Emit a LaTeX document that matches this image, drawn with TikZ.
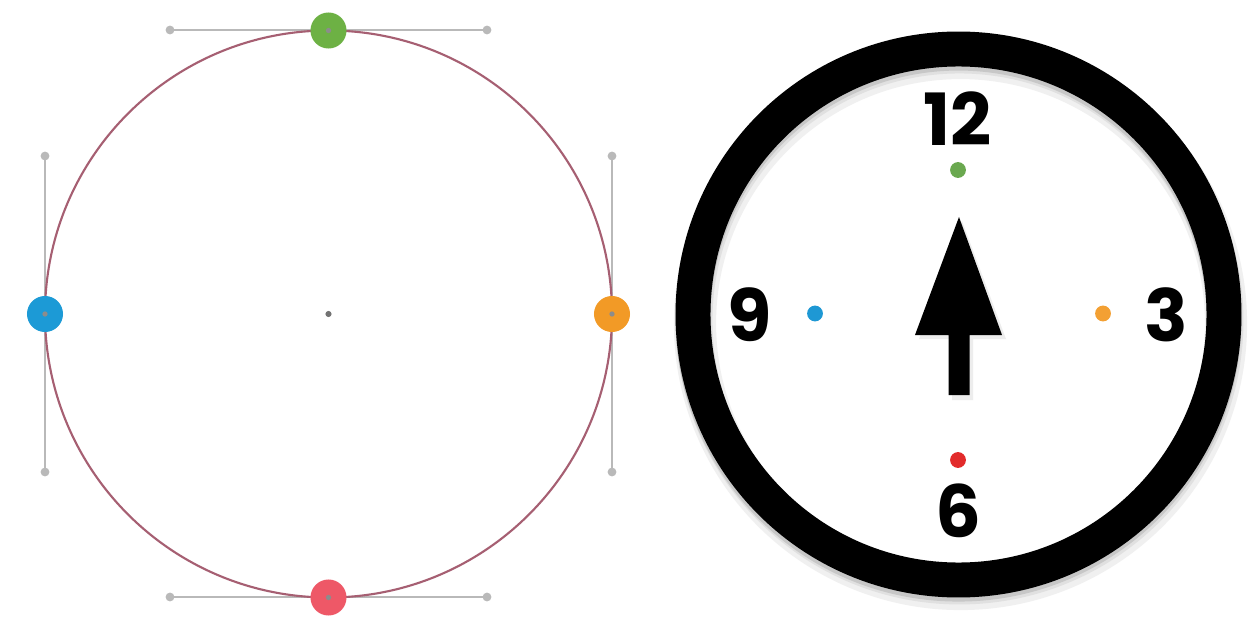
\documentclass[tikz,border=0pt]{standalone}
\usepackage{fontspec}
\usetikzlibrary{calc}
\newfontfamily\clockfont{Poppins}
\definecolor{curvecol}{HTML}{A65F72}
\definecolor{handlecol}{HTML}{B9B9B9}
\definecolor{ptgreen}{HTML}{6DB144}
\definecolor{ptblue}{HTML}{1C9AD6}
\definecolor{ptorange}{HTML}{F29A26}
\definecolor{ptred}{HTML}{EE5867}
\definecolor{ckgreen}{HTML}{6AA84F}
\definecolor{ckblue}{HTML}{1E98D4}
\definecolor{ckorange}{HTML}{F3A033}
\definecolor{ckred}{HTML}{E22B2B}
\tikzset{
  handle/.style={draw=handlecol, line width=1.2pt},
  handleend/.style={circle, fill=handlecol, inner sep=0pt, minimum size=5pt},
  anchorpt/.style={circle, inner sep=0pt, minimum size=20.5pt},
  anchorcore/.style={circle, fill=black!45, inner sep=0pt, minimum size=3pt},
  clockdot/.style={circle, inner sep=0pt, minimum size=9pt},
  numeral/.style={font=\clockfont\bfseries\fontsize{41}{41}\selectfont, inner sep=0pt, text=black}
}
\begin{document}
\begin{tikzpicture}[x=0.02cm, y=-0.02cm]
\useasboundingbox (0,0) rectangle (1259,635);
\fill[white] (0,0) rectangle (1259,635);

% ---------- left: bezier circle with handles ----------
\coordinate (ctr) at (328.5,314);
\coordinate (tl) at (170,30);  \coordinate (tr) at (487,30);
\coordinate (bl) at (170,597); \coordinate (br) at (487,597);
\coordinate (lt) at (45,156);  \coordinate (lb) at (45,472);
\coordinate (rt) at (612,156); \coordinate (rb) at (612,472);
\draw[handle] (tl) -- (tr);
\draw[handle] (bl) -- (br);
\draw[handle] (lt) -- (lb);
\draw[handle] (rt) -- (rb);
\foreach \p in {tl,tr,bl,br,lt,lb,rt,rb} \node[handleend] at (\p) {};
\draw[curvecol, line width=1.2pt] (ctr) circle (283.5);
\node[anchorpt, fill=ptgreen] (ptop) at (328.5,30.5) {};
\node[anchorpt, fill=ptblue] (pleft) at (45,314) {};
\node[anchorpt, fill=ptorange] (pright) at (612,314) {};
\node[anchorpt, fill=ptred] (pbottom) at (328.5,597.5) {};
\foreach \p in {ptop,pleft,pright,pbottom} \node[anchorcore] at (\p) {};
\node[circle, fill=black!55, inner sep=0pt, minimum size=3.5pt] (center) at (ctr) {};

% ---------- right: clock ----------
\coordinate (cc) at (958.5,314.5);
% soft shadow of ring
\draw[black!6, line width=24pt] ($(cc)+(2,9)$) circle (265.5);
\draw[black!12, line width=21pt] ($(cc)+(1,6)$) circle (265.5);
\draw[black!22, line width=20pt] ($(cc)+(0,4)$) circle (265.5);
\draw[black, line width=19.9pt] (cc) circle (265.5);

\node[numeral] (n12) at (958,119) {12};
\node[numeral] (n3)  at (1166,315) {3};
\node[numeral] (n6)  at (958,511) {6};
\node[numeral] (n9)  at (750,315) {9};

\node[clockdot, fill=ckgreen] (dtop) at (958,170) {};
\node[clockdot, fill=ckblue] (dleft) at (815,313.5) {};
\node[clockdot, fill=ckorange] (dright) at (1103,313.5) {};
\node[clockdot, fill=ckred] (dbottom) at (958,460) {};

% hand
\fill[black!7] (962,221) -- (1006,339) -- (973,339) -- (973,400) -- (952,400) -- (952,339) -- (919,339) -- cycle;
\fill[black] (959,217) -- (1002,335) -- (969.5,335) -- (969.5,395) -- (948.5,395) -- (948.5,335) -- (915,335) -- cycle;
\end{tikzpicture}
\end{document}
